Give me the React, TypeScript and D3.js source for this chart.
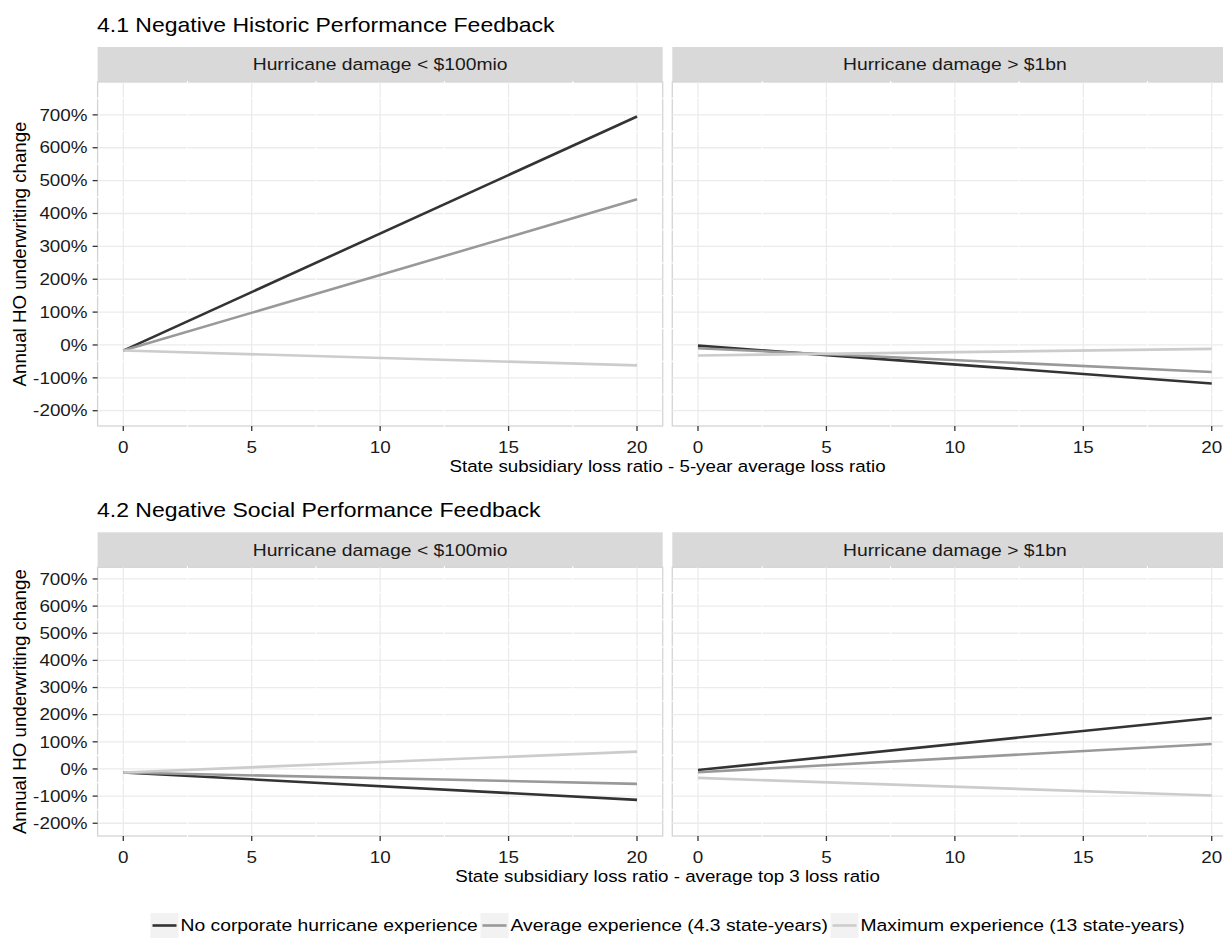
import React from 'react';
import * as d3 from 'd3';

const sectionTitles = ['4.1 Negative Historic Performance Feedback', '4.2 Negative Social Performance Feedback'];
const stripLabels = ['Hurricane damage < $100mio', 'Hurricane damage > $1bn'];
const xTitles = ['State subsidiary loss ratio - 5-year average loss ratio', 'State subsidiary loss ratio - average top 3 loss ratio'];
const yTitle = 'Annual HO underwriting change';
const seriesLabels = ['No corporate hurricane experience', 'Average experience (4.3 state-years)', 'Maximum experience (13 state-years)'];
const seriesColors = ['#333333', '#999999', '#cccccc'];

const xPoints = [0, 20];
const xTicks = [0, 5, 10, 15, 20];
const yTicks = [-200, -100, 0, 100, 200, 300, 400, 500, 600, 700];

// predicted change (%) at x = 0 and x = 20, per experience level
const historicSmall = [[-17, 695], [-17, 443], [-17, -62]];
const historicLarge = [[-2, -117], [-10, -82], [-32, -12]];
const socialSmall = [[-13, -114], [-13, -55], [-13, 64]];
const socialLarge = [[-4, 188], [-12, 92], [-33, -98]];

const FONT = '"Liberation Sans", Arial, Helvetica, sans-serif';
const SX = 1.15; // the picture's text is a bit wider than it is tall

const T = ({ x, y, size, anchor = 'start', fill = '#000', children }) => (
  <text transform={`translate(${x},${y}) scale(${SX},1)`} dy="0.35em" textAnchor={anchor} fontSize={size} fill={fill}>{children}</text>
);

const Facet = ({ x, y, data, stripLabel, showY }) => {
  const xMinor = [2.5, 7.5, 12.5, 17.5];
  const yMinor = d3.range(-150, 751, 100);
  const xr = x.range();
  const yr = y.range();
  const line = d3.line().x((d) => x(d[0])).y((d) => y(d[1]));
  return (
    <g>
      <rect x={xr[0]} y={yr[1] - 35} width={xr[1] - xr[0]} height={35} fill="#d9d9d9" />
      <T x={(xr[0] + xr[1]) / 2} y={yr[1] - 17.5} size={16.8} anchor="middle" fill="#1a1a1a">{stripLabel}</T>
      <rect x={xr[0]} y={yr[1]} width={xr[1] - xr[0]} height={yr[0] - yr[1]} fill="#fff" stroke="#d4d4d4" strokeWidth={1.3} />
      {yTicks.filter((t) => y(t) > yr[1] && y(t) < yr[0]).map((t) => (
        <line key={'gy' + t} x1={xr[0]} x2={xr[1]} y1={y(t)} y2={y(t)} stroke="#ebebeb" strokeWidth={1.3} />
      ))}
      {xTicks.map((t) => (
        <line key={'gx' + t} x1={x(t)} x2={x(t)} y1={yr[1]} y2={yr[0]} stroke="#ebebeb" strokeWidth={1.3} />
      ))}
      {xMinor.map((t) => (
        <line key={'mx' + t} x1={x(t)} x2={x(t)} y1={yr[1] - 1} y2={yr[0] + 1} stroke="#fff" strokeWidth={1.2} />
      ))}
      {yMinor.filter((t) => y(t) > yr[1] && y(t) < yr[0]).map((t) => (
        <line key={'my' + t} x1={xr[0] - 1} x2={xr[1] + 1} y1={y(t)} y2={y(t)} stroke="#fff" strokeWidth={1.2} />
      ))}
      {data.map((s, i) => (
        <path key={'s' + i} d={line(xPoints.map((xv, j) => [xv, s[j]]))} fill="none" stroke={seriesColors[i]} strokeWidth={2.6} />
      ))}
      {xTicks.map((t) => (
        <g key={'tx' + t}>
          <line x1={x(t)} x2={x(t)} y1={yr[0]} y2={yr[0] + 5} stroke="#333" strokeWidth={1.3} />
          <T x={x(t)} y={yr[0] + 21} size={16.4} anchor="middle" fill="#1a1a1a">{t}</T>
        </g>
      ))}
      {showY && yTicks.map((t) => (
        <g key={'ty' + t}>
          <line x1={xr[0] - 5} x2={xr[0]} y1={y(t)} y2={y(t)} stroke="#333" strokeWidth={1.3} />
          <T x={xr[0] - 10} y={y(t)} size={16.4} anchor="end" fill="#1a1a1a">{t + '%'}</T>
        </g>
      ))}
    </g>
  );
};

export default function App() {
  const width = 1231;
  const height = 949;

  const xLeft = d3.scaleLinear().domain([-1, 21]).range([97.6, 662.7]);
  const xRight = d3.scaleLinear().domain([-1, 21]).range([672.3, 1237.4]);
  const yTop = d3.scaleLinear().domain([-246.5, 800]).range([426, 82]);
  const yBottom = d3.scaleLinear().domain([-247, 743]).range([836, 567.3]);
  const xTitleX = (xLeft.range()[0] + xRight.range()[1]) / 2;

  const sections = [
    { y: yTop, left: historicSmall, right: historicLarge, titleY: 25 },
    { y: yBottom, left: socialSmall, right: socialLarge, titleY: 510 },
  ];

  const legendSize = 16.8;
  const keyW = 28;
  const textW = [296, 316, 323];
  let legendX = 150.5;

  return (
    <svg width={width} height={height} style={{ display: 'block', margin: -8, fontFamily: FONT }}>
      <rect width={width} height={height} fill="#fff" />
      {sections.map((s, k) => {
        const yr = s.y.range();
        return (
          <g key={k}>
            <T x={97} y={s.titleY} size={20}>{sectionTitles[k]}</T>
            <Facet x={xLeft} y={s.y} data={s.left} stripLabel={stripLabels[0]} showY />
            <Facet x={xRight} y={s.y} data={s.right} stripLabel={stripLabels[1]} showY={false} />
            <T x={xTitleX} y={yr[0] + 40} size={16.3} anchor="middle">{xTitles[k]}</T>
            <text transform={`translate(19,${(yr[0] + yr[1]) / 2}) rotate(-90)`} dy="0.35em" textAnchor="middle" fontSize={18.7} fill="#000">{yTitle}</text>
          </g>
        );
      })}
      <g>
        {seriesLabels.map((label, i) => {
          const gx = legendX;
          legendX += keyW + 2 + textW[i] + 4;
          return (
            <g key={label}>
              <rect x={gx} y={913} width={keyW} height={25} fill="#f2f2f2" />
              <line x1={gx + 2} x2={gx + keyW - 2} y1={925.5} y2={925.5} stroke={seriesColors[i]} strokeWidth={2.6} />
              <T x={gx + keyW + 2} y={925.5} size={legendSize}>{label}</T>
            </g>
          );
        })}
      </g>
    </svg>
  );
}
